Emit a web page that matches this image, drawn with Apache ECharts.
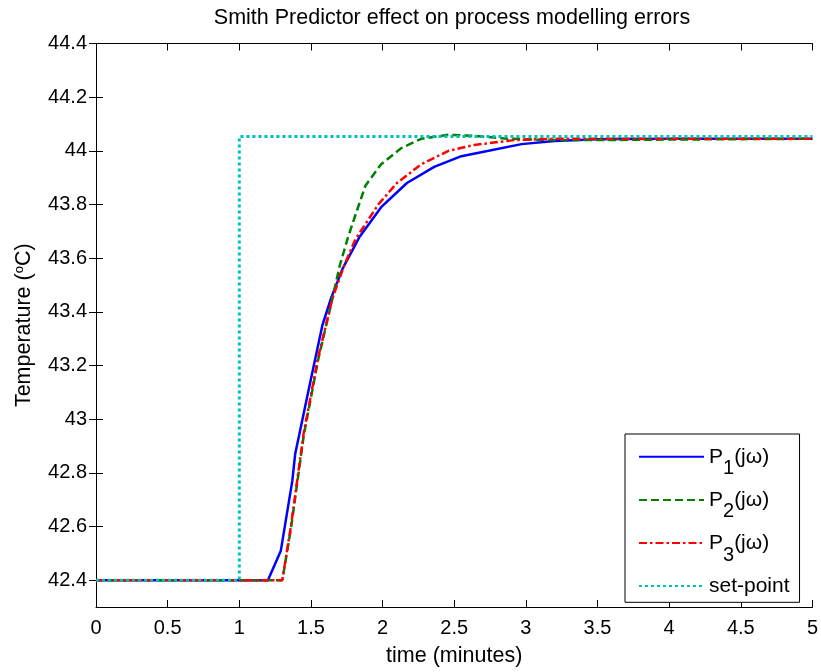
<!DOCTYPE html>
<html>
<head>
<meta charset="utf-8">
<script src="https://cdn.jsdelivr.net/npm/echarts@6/dist/echarts.min.js"></script>
<style>
  html, body { margin: 0; padding: 0; background: #fff; }
  #chart { width: 821px; height: 672px; }
</style>
</head>
<body>
<div id="chart"></div>
<script>
// ---- data ----
const p1Time = [0, 1.2, 1.29, 1.37, 1.39, 1.5, 1.58, 1.64, 1.72, 1.84, 1.99, 2.17, 2.36, 2.55, 2.74, 2.97, 3.2, 3.5, 4, 4.5, 5];
const p1Temp = [42.4, 42.4, 42.51, 42.77, 42.87, 43.15, 43.35, 43.45, 43.56, 43.68, 43.79, 43.88, 43.94, 43.98, 44.0, 44.025, 44.037, 44.043, 44.045, 44.045, 44.045];

const p2Time = [0, 1.3, 1.36, 1.45, 1.55, 1.65, 1.7, 1.76, 1.81, 1.88, 1.99, 2.13, 2.27, 2.46, 2.64, 2.85, 3.1, 3.5, 4, 5];
const p2Temp = [42.4, 42.4, 42.59, 42.94, 43.22, 43.45, 43.57, 43.68, 43.76, 43.87, 43.95, 44.01, 44.045, 44.06, 44.056, 44.046, 44.041, 44.04, 44.042, 44.045];

const p3Time = [0, 1.3, 1.36, 1.45, 1.55, 1.65, 1.73, 1.81, 1.97, 2.1, 2.27, 2.46, 2.64, 2.92, 3.2, 3.5, 4, 5];
const p3Temp = [42.4, 42.4, 42.6, 42.95, 43.23, 43.45, 43.57, 43.67, 43.8, 43.88, 43.95, 44.0, 44.022, 44.04, 44.045, 44.045, 44.045, 44.045];

const spTime = [0, 1, 1, 5];
const spTemp = [42.4, 42.4, 44.053, 44.053];

const xTicks = [0, 0.5, 1, 1.5, 2, 2.5, 3, 3.5, 4, 4.5, 5];
const yTicks = [42.4, 42.6, 42.8, 43, 43.2, 43.4, 43.6, 43.8, 44, 44.2, 44.4];

const seriesNames = ['P1(jω)', 'P2(jω)', 'P3(jω)', 'set-point'];
const legendLabels = {
  'P1(jω)': '{b|P}{s|1}{b|(jω)}',
  'P2(jω)': '{b|P}{s|2}{b|(jω)}',
  'P3(jω)': '{b|P}{s|3}{b|(jω)}',
  'set-point': '{b|set-point}'
};

function zip(t, v) { return t.map((x, i) => [x, v[i]]); }

const FONT = '"Liberation Sans", Arial, Helvetica, sans-serif';

const chart = echarts.init(document.getElementById('chart'), null, { renderer: 'canvas' });

const axisCommon = {
  axisLine: { show: true, lineStyle: { color: '#000', width: 1 } },
  splitLine: { show: false }
};

const option = {
  animation: false,
  backgroundColor: '#fff',
  title: {
    text: 'Smith Predictor effect on process modelling errors',
    left: 452,
    top: 7,
    textAlign: 'center',
    padding: 0,
    textStyle: { fontFamily: FONT, fontSize: 21.5, fontWeight: 'normal', color: '#000' }
  },
  grid: { left: 96, right: 8, top: 43.5, bottom: 62, containLabel: false },
  legend: {
    data: seriesNames,
    orient: 'vertical',
    left: 625,
    top: 434,
    padding: [12.3, 10, 5.7, 13],
    itemWidth: 65,
    itemHeight: 14,
    itemGap: 10.6,
    backgroundColor: '#fff',
    borderColor: '#000',
    borderWidth: 1,
    borderRadius: 0,
    itemStyle: { opacity: 0, color: 'transparent', borderWidth: 0 },
    formatter: function (name) { return legendLabels[name]; },
    textStyle: {
      fontFamily: FONT,
      color: '#000',
      rich: {
        b: { fontFamily: FONT, fontSize: 21, verticalAlign: 'middle', color: '#000' },
        s: { fontFamily: FONT, fontSize: 20, verticalAlign: 'middle', padding: [12, 0, -12, 0], color: '#000' }
      }
    }
  },
  xAxis: [
    Object.assign({}, axisCommon, {
      type: 'value', min: 0, max: 5, interval: 0.5, position: 'bottom',
      name: 'time (minutes)', nameLocation: 'middle', nameGap: 38,
      nameTextStyle: { fontFamily: FONT, fontSize: 21.5, color: '#000' },
      axisTick: { show: true, inside: true, length: 7, lineStyle: { color: '#000' } },
      axisLabel: { fontFamily: FONT, fontSize: 20, color: '#000', margin: 11,
        customValues: xTicks },
    }),
    Object.assign({}, axisCommon, {
      type: 'value', min: 0, max: 5, interval: 0.5, position: 'top',
      axisTick: { show: true, inside: true, length: 7, lineStyle: { color: '#000' } },
      axisLabel: { show: false }
    })
  ],
  yAxis: [
    Object.assign({}, axisCommon, {
      type: 'value', min: 42.3, max: 44.4, interval: 0.1, position: 'left',
      name: 'Temperature ({o|o}C)', nameLocation: 'middle', nameGap: 61,
      nameTextStyle: { fontFamily: FONT, fontSize: 21.5, color: '#000',
        rich: { o: { fontFamily: FONT, fontSize: 13, verticalAlign: 'top', padding: [0, 0, 8, 0], color: '#000' } } },
      axisTick: { show: true, inside: true, length: 7, lineStyle: { color: '#000' }, customValues: yTicks },
      axisLabel: { fontFamily: FONT, fontSize: 20, color: '#000', margin: 9, customValues: yTicks,
        formatter: function (v) { return (Math.round(v * 10) % 2 === 0) ? String(+v.toFixed(1)) : ''; } }
    }),
    Object.assign({}, axisCommon, {
      type: 'value', min: 42.3, max: 44.4, interval: 0.1, position: 'right',
      axisTick: { show: true, inside: true, length: 7, lineStyle: { color: '#000' }, customValues: yTicks },
      axisLabel: { show: false, customValues: yTicks }
    })
  ],
  series: [
    {
      name: 'P1(jω)', type: 'line', xAxisIndex: 0, yAxisIndex: 0,
      data: zip(p1Time, p1Temp), symbol: 'none', showSymbol: false,
      lineStyle: { color: '#0000ff', width: 2.5, type: 'solid' },
      itemStyle: { color: '#0000ff' }
    },
    {
      name: 'P2(jω)', type: 'line', xAxisIndex: 0, yAxisIndex: 0,
      data: zip(p2Time, p2Temp), symbol: 'none', showSymbol: false,
      lineStyle: { color: '#008000', width: 2.5, type: [8, 4] },
      itemStyle: { color: '#008000' }
    },
    {
      name: 'P3(jω)', type: 'line', xAxisIndex: 0, yAxisIndex: 0,
      data: zip(p3Time, p3Temp), symbol: 'none', showSymbol: false,
      lineStyle: { color: '#ff0000', width: 2.5, type: [8, 3, 2.5, 3] },
      itemStyle: { color: '#ff0000' }
    },
    {
      name: 'set-point', type: 'line', xAxisIndex: 0, yAxisIndex: 0,
      data: zip(spTime, spTemp), symbol: 'none', showSymbol: false,
      lineStyle: { color: '#00bfbf', width: 3, type: [3, 3] },
      itemStyle: { color: '#00bfbf' }
    }
  ]
};

chart.setOption(option);
</script>
</body>
</html>
